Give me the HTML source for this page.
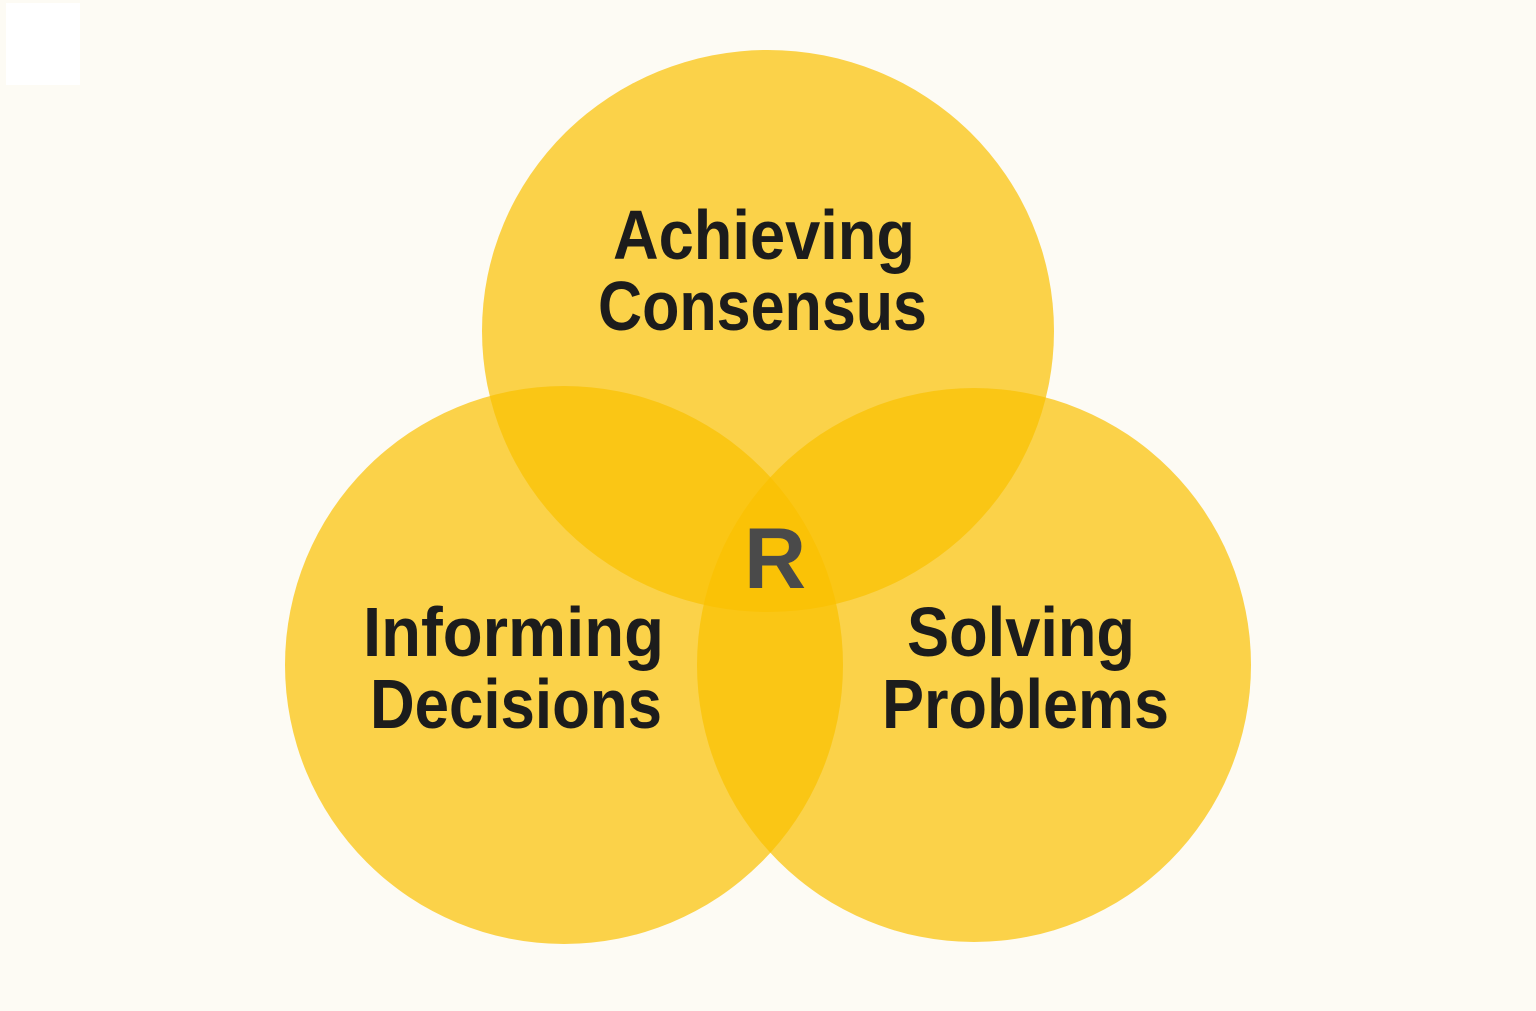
<!DOCTYPE html>
<html><head><meta charset="utf-8"><style>
html,body{margin:0;padding:0;background:#FDFBF4;}
svg{display:block}
text{font-family:"Liberation Sans",sans-serif;font-weight:bold;fill:#1c1c1c}
</style></head><body>
<svg width="1536" height="1011" viewBox="0 0 1536 1011">
<rect width="1536" height="1011" fill="#FDFBF4"/>
<rect x="6" y="3" width="74" height="82" fill="#ffffff"/>
<g fill="#F9C000" fill-opacity="0.7">
<ellipse cx="768" cy="331" rx="286" ry="281"/>
<circle cx="564" cy="665" r="279"/>
<circle cx="974" cy="665" r="277"/>
</g>
<text x="613" y="259" font-size="70" textLength="302" lengthAdjust="spacingAndGlyphs">Achieving</text>
<text x="598" y="330" font-size="70" textLength="329" lengthAdjust="spacingAndGlyphs">Consensus</text>
<text x="363" y="656" font-size="70" textLength="301" lengthAdjust="spacingAndGlyphs">Informing</text>
<text x="370" y="728" font-size="70" textLength="292" lengthAdjust="spacingAndGlyphs">Decisions</text>
<text x="907" y="656" font-size="70" textLength="228" lengthAdjust="spacingAndGlyphs">Solving</text>
<text x="882" y="728" font-size="70" textLength="287" lengthAdjust="spacingAndGlyphs">Problems</text>
<text x="775" y="588" font-size="86" text-anchor="middle" style="fill:#4a4a4a">R</text>
</svg>
</body></html>
